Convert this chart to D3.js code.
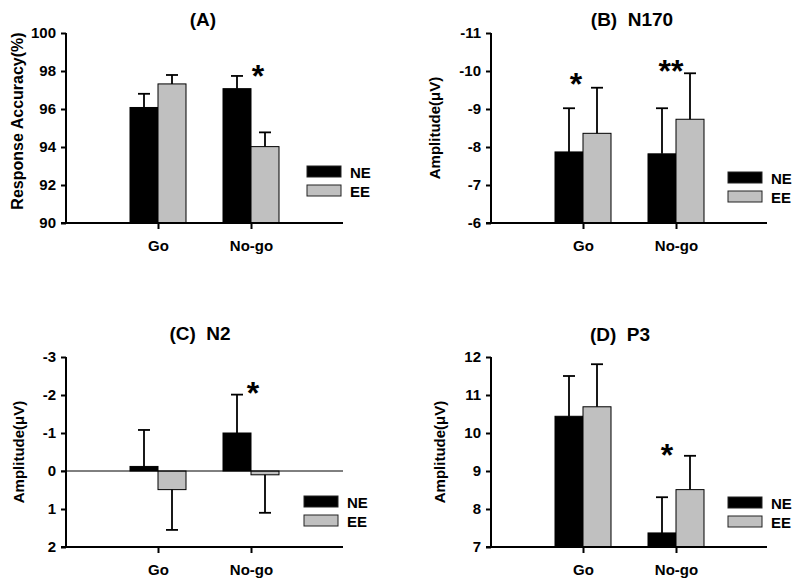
<!DOCTYPE html>
<html><head><meta charset="utf-8">
<script src="https://cdn.jsdelivr.net/npm/d3@7"></script>
<style>
body{margin:0;background:#fff;}
text{font-family:"Liberation Sans",Arial,sans-serif;font-weight:bold;fill:#000;}
</style></head>
<body><svg id="c" width="800" height="587"></svg>
<script>
const categories = ["Go", "No-go"];
const series = ["NE", "EE"];
const seriesColors = ["#000000", "#c0c0c0"];

// (A) Response accuracy
const accNE = [96.08, 97.07], accNEerr = [0.72, 0.67];
const accEE = [97.32, 94.02], accEEerr = [0.47, 0.75];
const accTicks = [90, 92, 94, 96, 98, 100];
// (B) N170
const n170NE = [-7.87, -7.82], n170NEerr = [1.15, 1.20];
const n170EE = [-8.36, -8.73], n170EEerr = [1.20, 1.21];
const n170Ticks = [-6, -7, -8, -9, -10, -11];
// (C) N2
const n2NE = [-0.12, -1.00], n2NEerr = [0.96, 1.01];
const n2EE = [0.49, 0.10], n2EEerr = [1.06, 1.00];
const n2Ticks = [2, 1, 0, -1, -2, -3];
// (D) P3
const p3NE = [10.44, 7.37], p3NEerr = [1.06, 0.94];
const p3EE = [10.69, 8.51], p3EEerr = [1.12, 0.89];
const p3Ticks = [7, 8, 9, 10, 11, 12];

const svg = d3.select("#c");
const FONT = "Liberation Sans, Arial, sans-serif";

function panel(cfg) {
  const g = svg.append("g");
  const y = d3.scaleLinear().domain(cfg.domain).range([cfg.bottom, cfg.top]);
  const x = d3.scalePoint().domain(categories).range([cfg.left + 92, cfg.left + 185]);
  const xs = d3.scaleBand().domain(series).range([-28, 28]).padding(0);
  const rows = [];
  categories.forEach((c, i) => {
    rows.push({c, s: "NE", v: cfg.ne[i], e: cfg.neErr[i], col: seriesColors[0]});
    rows.push({c, s: "EE", v: cfg.ee[i], e: cfg.eeErr[i], col: seriesColors[1]});
  });
  const base = cfg.base;
  g.selectAll("rect.bar").data(rows).enter().append("rect")
    .attr("x", d => x(d.c) + xs(d.s))
    .attr("width", xs.bandwidth())
    .attr("y", d => Math.min(y(d.v), y(base)))
    .attr("height", d => Math.abs(y(d.v) - y(base)))
    .attr("fill", d => d.col).attr("stroke", "#000").attr("stroke-width", 1);
  rows.forEach(d => {
    const dir = Math.sign(d.v - base) || 1;
    const cx = x(d.c) + xs(d.s) + xs.bandwidth() / 2;
    const yEnd = y(d.v + dir * d.e);
    g.append("line").attr("x1", cx).attr("x2", cx).attr("y1", y(d.v)).attr("y2", yEnd)
      .attr("stroke", "#000").attr("stroke-width", 1.8);
    g.append("line").attr("x1", cx - 6).attr("x2", cx + 6).attr("y1", yEnd).attr("y2", yEnd)
      .attr("stroke", "#000").attr("stroke-width", 1.8);
  });
  if (cfg.zero) {
    g.append("line").attr("x1", cfg.left - 5).attr("x2", cfg.right).attr("y1", y(0)).attr("y2", y(0))
      .attr("stroke", "#000").attr("stroke-width", 1);
  }
  const ya = d3.axisLeft(y).tickValues(cfg.ticks).tickSize(5).tickPadding(5).tickFormat(d => String(d));
  const yg = g.append("g").attr("transform", `translate(${cfg.left},0)`).call(ya);
  yg.select(".domain").attr("stroke-width", 2).attr("d", `M0,${cfg.top}V${cfg.bottom}`);
  yg.selectAll(".tick line").attr("stroke-width", 2);
  yg.selectAll(".tick text").style("font-size", "15px").style("font-family", FONT).style("font-weight", "bold");
  const xa = d3.axisBottom(x).tickSize(6).tickPadding(11);
  const xg = g.append("g").attr("transform", `translate(0,${cfg.bottom})`).call(xa);
  xg.select(".domain").attr("stroke-width", 2).attr("d", `M${cfg.left - 5},0H${cfg.right}`);
  xg.selectAll(".tick line").attr("stroke-width", 2);
  xg.selectAll(".tick text").style("font-size", "15px").style("font-family", FONT).style("font-weight", "bold");
  g.append("text").attr("x", cfg.titleX).attr("y", cfg.titleY).attr("text-anchor", "middle")
    .style("font-size", "19px").attr("xml:space", "preserve").text(cfg.title);
  g.append("text").attr("transform", `translate(${cfg.labX},${cfg.labY}) rotate(-90)`)
    .attr("text-anchor", "middle").attr("dy", "0.35em").style("font-size", cfg.labSize).text(cfg.label);
  series.forEach((s, i) => {
    const ly = cfg.legY + i * 19;
    g.append("rect").attr("x", cfg.legX).attr("y", ly).attr("width", 34).attr("height", 11)
      .attr("fill", seriesColors[i]).attr("stroke", "#222").attr("stroke-width", 1);
    g.append("text").attr("x", cfg.legX + 43).attr("y", ly + 11.5).style("font-size", "15px").text(s);
  });
  cfg.stars.forEach(st => {
    g.append("text").attr("x", st.x).attr("y", st.y).attr("text-anchor", "middle")
      .style("font-size", "32px").text(st.t);
  });
}

panel({left: 66, right: 343, top: 33, bottom: 223, domain: [90, 100], ticks: accTicks, base: 90,
  ne: accNE, neErr: accNEerr, ee: accEE, eeErr: accEEerr,
  title: "(A)", titleX: 203, titleY: 26, label: "Response Accuracy(%)", labX: 17, labY: 121, labSize: "16px",
  legX: 307, legY: 166, stars: [{x: 258, y: 87, t: "*"}]});

panel({left: 491, right: 767, top: 33, bottom: 223, domain: [-6, -11], ticks: n170Ticks, base: -6,
  ne: n170NE, neErr: n170NEerr, ee: n170EE, eeErr: n170EEerr,
  title: "(B)  N170", titleX: 632, titleY: 26, label: "Amplitude(μV)", labX: 435, labY: 128, labSize: "15px",
  legX: 728, legY: 172, stars: [{x: 576, y: 95, t: "*"}, {x: 671, y: 82, t: "**"}]});

panel({left: 66, right: 343, top: 357, bottom: 547, domain: [2, -3], ticks: n2Ticks, base: 0, zero: true,
  ne: n2NE, neErr: n2NEerr, ee: n2EE, eeErr: n2EEerr,
  title: "(C)  N2", titleX: 200, titleY: 340, label: "Amplitude(μV)", labX: 19, labY: 452, labSize: "15px",
  legX: 304, legY: 496, stars: [{x: 253, y: 404, t: "*"}]});

panel({left: 491, right: 767, top: 357, bottom: 547, domain: [7, 12], ticks: p3Ticks, base: 7,
  ne: p3NE, neErr: p3NEerr, ee: p3EE, eeErr: p3EEerr,
  title: "(D)  P3", titleX: 620, titleY: 341, label: "Amplitude(μV)", labX: 440, labY: 452, labSize: "15px",
  legX: 728, legY: 497, stars: [{x: 667, y: 466, t: "*"}]});
</script></body></html>
